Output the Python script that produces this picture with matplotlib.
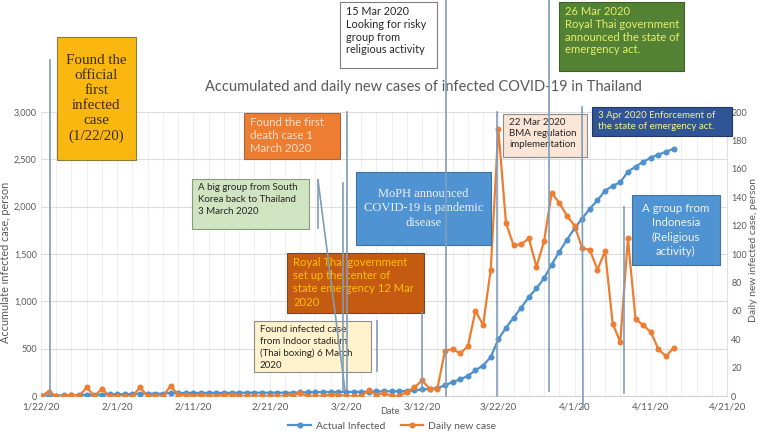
import matplotlib.pyplot as plt
from matplotlib.patches import Rectangle
from matplotlib.lines import Line2D
import numpy as np

plt.rcParams['font.family'] = ['Lato', 'DejaVu Sans']

# accumulated infected, 1/22/20 .. 4/14/20 (one value per day)
accum = [2, 3, 5, 7, 8, 8, 14, 14, 14, 19, 19, 19, 19, 25, 25, 25, 25, 32, 32, 32,
         33, 33, 33, 33, 33, 34, 35, 35, 35, 35, 35, 35, 35, 35, 37, 40, 40, 41, 42, 42,
         43, 43, 43, 47, 48, 50, 50, 50, 53, 59, 70, 75, 82, 114, 147, 177, 212, 272, 322, 411,
         599, 721, 827, 934, 1045, 1136, 1245, 1388, 1524, 1651, 1771, 1875, 1978, 2067, 2169, 2220,
         2258, 2369, 2423, 2473, 2518, 2551, 2579, 2613]
# daily new cases, same days
daily = [0, 3, 0, 0, 1, 0, 6, 0, 5, 0, 0, 0, 0, 6, 0, 0, 0, 7, 1, 1,
         0, 1, 0, 0, 1, 1, 0, 0, 0, 0, 0, 0, 0, 1, 2, 0, 0, 0, 1, 1,
         0, 0, 0, 4, 1, 2, 0, 0, 3, 6, 11, 5, 5, 32, 33, 30, 35, 60, 50, 89,
         188, 122, 106, 107, 111, 91, 109, 143, 136, 127, 120, 104, 103, 89, 102, 51,
         38, 111, 54, 50, 45, 33, 28, 34]
days = np.arange(len(accum))

tick_days = [0, 10, 20, 30, 40, 50, 60, 70, 80, 90]
tick_labels = ['1/22/20', '2/1/20', '2/11/20', '2/21/20', '3/2/20', '3/12/20',
               '3/22/20', '4/1/20', '4/11/20', '4/21/20']

BLUE = '#4F91CD'
ORANGE = '#ED7D31'
GRAY = '#595959'
W, H = 762, 442

fig = plt.figure(figsize=(W / 100, H / 100), dpi=100)
ax = fig.add_axes([41 / W, 1 - 396 / H, 686 / W, 284 / H])
ax2 = ax.twinx()

# grid
for d in range(0, 91, 2):
    ax.axvline(d, color='#EFEFEF', lw=0.7, zorder=0)
ax.set_yticks(range(0, 3001, 500))
ax.yaxis.grid(True, color='#DCDCDC', lw=0.8)
ax.set_axisbelow(True)

ax.plot(days, accum, color=BLUE, marker='o', ms=3.3, lw=1.6, label='Actual Infected', zorder=3)
ax2.plot(days, daily, color=ORANGE, marker='o', ms=3.3, lw=1.6, label='Daily new case', zorder=3)

ax.set_xlim(0, 90)
ax.set_ylim(0, 3000)
ax2.set_ylim(0, 200)
ax2.set_yticks(range(0, 201, 20))
ax.set_xticks(tick_days)
ax.set_xticklabels(tick_labels)
ax.set_yticklabels(['{:,}'.format(v) for v in range(0, 3001, 500)])

for a in (ax, ax2):
    for s in a.spines.values():
        s.set_visible(False)
    a.tick_params(length=0, labelsize=6.5, labelcolor=GRAY, pad=3)
ax.spines['bottom'].set_visible(True)
ax.spines['bottom'].set_color('#D0D0D0')
ax2.spines['right'].set_visible(True)
ax2.spines['right'].set_color('#E0E0E0')
ax.tick_params(axis='x', labelsize=7, pad=5)

fig.text(6 / W, 1 - 262 / H, 'Accumulate infected case, person', fontsize=7.8, color=GRAY,
         rotation=90, ha='center', va='center')
fig.text(754 / W, 1 - 250 / H, 'Daily new infected case, person', fontsize=7.5, color=GRAY,
         rotation=90, ha='center', va='center')
fig.text(390 / W, 1 - 411 / H, 'Date', fontsize=6.5, color=GRAY, ha='center', va='center')

h1, l1 = ax.get_legend_handles_labels()
h2, l2 = ax2.get_legend_handles_labels()
fig.legend(h1 + h2, l1 + l2, loc='center', bbox_to_anchor=(392 / W, 1 - 426 / H), ncol=2,
           frameon=False, fontsize=7.5, labelcolor=GRAY, handlelength=2.2, columnspacing=1.5,
           handletextpad=0.4)

fig.text(423 / W, 1 - 87 / H, 'Accumulated and daily new cases of infected COVID-19 in Thailand',
         fontsize=10.5, color=GRAY, ha='center', va='center')


def box(x0, y0, x1, y1, txt, fc, tc, ec, size, center=False, serif=False, ls=1.25):
    fig.patches.append(Rectangle((x0 / W, 1 - y1 / H), (x1 - x0) / W, (y1 - y0) / H,
                                 transform=fig.transFigure, fc=fc, ec=ec, lw=0.8, zorder=5))
    fam = 'Liberation Serif' if serif else 'Lato'
    if center:
        fig.text((x0 + x1) / 2 / W, 1 - (y0 + y1) / 2 / H, txt, ha='center', va='center',
                 fontsize=size, color=tc, family=fam, zorder=6, linespacing=ls)
    else:
        fig.text((x0 + 6) / W, 1 - (y0 + 4) / H, txt, ha='left', va='top',
                 fontsize=size, color=tc, family=fam, zorder=6, linespacing=ls)


def vline(x0, y0, x1, y1):
    fig.add_artist(Line2D([x0 / W, x1 / W], [1 - y0 / H, 1 - y1 / H], transform=fig.transFigure,
                          color='#7F9DB9', lw=1.2, zorder=7))


box(57, 37, 136, 160, 'Found the\nofficial\nfirst\ninfected\ncase\n(1/22/20)',
    '#F9B70F', '#3B2F0F', '#8C7A3A', 10.8, center=True, serif=True, ls=1.2)
box(340, 2, 437, 68, '15 Mar 2020\nLooking for risky\ngroup from\nreligious activity',
    'white', '#262626', '#7F7F7F', 7.8, ls=1.2)
box(559, 2, 684, 71, '26 Mar 2020\nRoyal Thai government\nannounced the state of\nemergency act.',
    '#548235', '#E6EE6B', '#3E6128', 8.1, ls=1.2)
box(244, 113, 340, 159, 'Found the first\ndeath case 1\nMarch 2020',
    ORANGE, '#FBE0CC', '#A5673F', 8.2, ls=1.2)
box(192, 179, 309, 229, 'A big group from South\nKorea back to Thailand\n3 March 2020',
    '#CFE4C0', '#262626', '#8A9A80', 7.0, ls=1.45)
box(356, 172, 491, 245, 'MoPH announced\nCOVID-19 is pandemic\ndisease',
    '#4F93D3', '#F0F0F0', '#41719C', 9.0, center=True, serif=True, ls=1.3)
box(287, 253, 424, 313, 'Royal Thai government\nset up the center of\nstate emergency 12 Mar\n2020',
    '#C55A11', '#FFC000', '#6A4A30', 8.1, ls=1.25)
box(254, 321, 371, 372, 'Found infected case\nfrom Indoor stadium\n(Thai boxing) 6 March\n2020',
    '#FFF2CC', '#262626', '#8C8C8C', 7.0, ls=1.4)
box(503, 114, 587, 157, '22 Mar 2020\nBMA regulation\nimplementation',
    '#FBE5D6', '#262626', '#8C8C8C', 7.0, ls=1.3)
box(592, 107, 732, 136, '3 Apr 2020 Enforcement of\nthe state of emergency act.',
    '#2F5597', '#F2F28A', '#203864', 7.0, ls=1.3)
box(632, 195, 720, 265, 'A group from\nIndonesia\n(Religious\nactivity)',
    '#4F93D3', '#F2F2F2', '#41719C', 8.3, center=True, ls=1.35)

vline(50, 60, 50, 396)
vline(347, 112, 347, 390)
vline(343, 183, 343, 390)
vline(318, 180, 318, 228)
vline(318, 180, 345, 390)
vline(377, 321, 377, 371)
vline(422, 313, 422, 391)
vline(446, 0, 446, 396)
vline(497, 112, 497, 396)
vline(549, 0, 549, 391)
vline(582, 107, 583, 408)
vline(624, 207, 624, 393)

fig.savefig('out.png', dpi=100)
